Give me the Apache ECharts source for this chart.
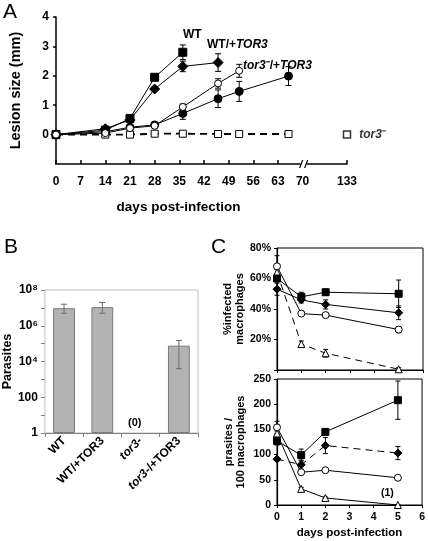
<!DOCTYPE html>
<html><head><meta charset="utf-8">
<script src="https://cdn.jsdelivr.net/npm/echarts@6/dist/echarts.min.js"></script>
<style>html,body{margin:0;padding:0;background:#fff}#c{width:428px;height:541px}</style>
</head><body><div id="c"></div>
<script>
// ---------- Panel A : lesion size ----------
const aDays = [0, 14, 21, 28, 36, 46, 52, 66];
const aWT = [0, 0.15, 0.55, 1.95, 2.8];
const aWTErr = [0, 0.03, 0.05, 0.06, 0.25];
const aWTTOR3 = [0, 0.2, 0.5, 1.55, 2.32, 2.45];
const aWTTOR3Err = [0, 0.03, 0.05, 0.07, 0.18, 0.3];
const aTor3TOR3a = [0, 0.1, 0.25, 0.33, 0.72, 1.22, 1.47, 1.99];
const aTor3TOR3aErr = [0, 0.03, 0.05, 0.05, 0.2, 0.3, 0.34, 0.32];
const aTor3TOR3b = [0, 0.05, 0.22, 0.3, 0.94, 1.74, 2.17];
const aTor3TOR3bErr = [0, 0.03, 0.05, 0.05, 0.1, 0.16, 0.22];
const aTor3 = [0, 0, 0, 0.03, 0.03, 0.02, 0.02, 0.02];
const aTor3LateDay = [133];
const aTor3Late = [0];
const aTickDays = [0, 7, 14, 21, 28, 35, 42, 49, 56, 63, 70, 133];
const aYTicks = [0, 1, 2, 3, 4];

// ---------- Panel B : parasites ----------
const bCats = ['WT', 'WT/+TOR3', 'tor3-', 'tor3-/+TOR3'];
const bValues = [9.6e6, 1.1e7, null, 7.7e4];
const bErrLow = [5e6, 5e6, null, 4e3];
const bErrHigh = [1.6e7, 2e7, null, 1.5e5];

// ---------- Panel C : macrophage infection ----------
const cDays = [0, 1, 2, 5];
const c1Square = [60, 48, 51, 50];
const c1SquareErr = [6, 3, 2, 9];
const c1Diamond = [53, 46, 43, 37.5];
const c1DiamondErr = [4, 2, 3, 4.5];
const c1Circle = [68, 37, 36, 26.5];
const c1CircleErr = [7, 1, 1, 2];
const c1Triangle = [64, 17, 11, 0.5];
const c1TriangleErr = [5, 2, 2.5, 1];

const c2Square = [127, 99, 145, 208];
const c2SquareErr = [8, 12, 3, 38];
const c2Diamond = [91, 80, 118, 103];
const c2DiamondErr = [3, 9, 16, 13];
const c2Circle = [154, 65, 69, 54];
const c2CircleErr = [12, 3, 3, 2];
const c2Triangle = [142, 32, 14, 0];
const c2TriangleErr = [5, 3, 2, 1];

const FONT = "'Liberation Sans', Arial, Helvetica, sans-serif";
const BREAK_AT = 70, BREAK_SCALE = 0.2;
const dx = d => d <= BREAK_AT ? d : BREAK_AT + (d - BREAK_AT) * BREAK_SCALE;

function pts(days, vals, f) { f = f || (d => d); return vals.map((v, i) => [f(days[i]), v]); }
function errPts(days, vals, errs, f) {
  f = f || (d => d);
  const out = [];
  vals.forEach((v, i) => { if (errs[i] > 0) out.push([f(days[i]), v - errs[i], v + errs[i]]); });
  return out;
}
function errSeries(xi, data, cap, color, z) {
  return {
    type: 'custom', xAxisIndex: xi, yAxisIndex: xi, data, z: z || 3, silent: true,
    encode: { x: 0, y: [1, 2] },
    renderItem: function (params, api) {
      const x = api.value(0), lo = api.value(1), hi = api.value(2);
      const p1 = api.coord([x, hi]), p2 = api.coord([x, lo]);
      const style = { stroke: color || '#000', lineWidth: 1, fill: null };
      return { type: 'group', children: [
        { type: 'line', shape: { x1: p1[0], y1: p1[1], x2: p2[0], y2: p2[1] }, style },
        { type: 'line', shape: { x1: p1[0] - cap, y1: p1[1], x2: p1[0] + cap, y2: p1[1] }, style },
        { type: 'line', shape: { x1: p2[0] - cap, y1: p2[1], x2: p2[0] + cap, y2: p2[1] }, style }
      ] };
    }
  };
}
function lineSeries(name, xi, data, symbol, size, filled, dashed, lw) {
  return {
    type: 'line', name, xAxisIndex: xi, yAxisIndex: xi, data, symbol, symbolSize: size,
    showAllSymbol: true, z: 4,
    lineStyle: { color: '#000', width: lw || 1, type: dashed ? [7, 5] : 'solid' },
    itemStyle: { color: filled ? '#000' : '#fff', borderColor: '#000', borderWidth: 1 },
    emphasis: { disabled: true }
  };
}

const axText = { color: '#000', fontFamily: FONT, fontWeight: 'bold' };

const chart = echarts.init(document.getElementById('c'));
const option = {
  animation: false,
  textStyle: { fontFamily: FONT },
  grid: [
    { left: 49, top: 17, width: 298, height: 147 },
    { left: 43, top: 290, width: 155, height: 143, show: true, borderColor: '#bdbdbd', borderWidth: 1 },
    { left: 277, top: 248, width: 146, height: 122, show: true, borderColor: '#000', borderWidth: 1 },
    { left: 277, top: 379, width: 146, height: 126, show: true, borderColor: '#000', borderWidth: 1 }
  ],
  xAxis: [
    {
      gridIndex: 0, type: 'value', min: 0, max: dx(133),
      axisLine: { onZero: false, lineStyle: { color: '#000', width: 1.5 } },
      axisTick: { show: true, inside: true, length: 4, customValues: aTickDays.map(dx), lineStyle: { color: '#000', width: 1.5 } },
      axisLabel: Object.assign({ customValues: aTickDays.map(dx), fontSize: 12, margin: 12,
        formatter: v => { const d = aTickDays.find(t => Math.abs(dx(t) - v) < 1e-6); return d === undefined ? '' : String(d); } }, axText),
      splitLine: { show: false },
      name: 'days post-infection', nameLocation: 'middle', nameGap: 36,
      nameTextStyle: Object.assign({ fontSize: 13.5, padding: [0, 46, 0, 0] }, axText)
    },
    {
      gridIndex: 1, type: 'category', data: bCats,
      axisLine: { onZero: false, lineStyle: { color: '#808080', width: 1 } },
      axisTick: { show: true, length: 4, lineStyle: { color: '#808080' } },
      axisLabel: Object.assign({ rotate: 45, interval: 0, fontSize: 12, margin: 6,
        formatter: v => v.startsWith('tor3-') ? '{i|tor3-}' + v.slice(5) : v,
        rich: { i: { fontStyle: 'italic', fontWeight: 'bold', fontSize: 12, fontFamily: FONT, color: '#000' } } }, axText),
      splitLine: { show: false }
    },
    {
      gridIndex: 2, type: 'value', min: 0, max: 6, interval: 1,
      axisLine: { onZero: false, lineStyle: { color: '#000', width: 1.2 } },
      axisTick: { show: true, length: 3, lineStyle: { color: '#000' } },
      axisLabel: { show: false }, splitLine: { show: false }
    },
    {
      gridIndex: 3, type: 'value', min: 0, max: 6, interval: 1,
      axisLine: { onZero: false, lineStyle: { color: '#000', width: 1.2 } },
      axisTick: { show: true, length: 3, lineStyle: { color: '#000' } },
      axisLabel: Object.assign({ fontSize: 10.5, margin: 7 }, axText),
      splitLine: { show: false },
      name: 'days post-infection', nameLocation: 'middle', nameGap: 22,
      nameTextStyle: Object.assign({ fontSize: 11.5 }, axText)
    }
  ],
  yAxis: [
    {
      gridIndex: 0, type: 'value', min: -1, max: 4,
      axisLine: { onZero: false, lineStyle: { color: '#000', width: 1.5 } },
      axisTick: { show: true, length: 3, customValues: aYTicks, lineStyle: { color: '#000', width: 1.5 } },
      axisLabel: Object.assign({ customValues: aYTicks, fontSize: 12, margin: 7 }, axText),
      splitLine: { show: false },
      name: 'Lesion size (mm)', nameLocation: 'middle', nameGap: 33, nameRotate: 90,
      nameTextStyle: Object.assign({ fontSize: 14.5 }, axText)
    },
    {
      gridIndex: 1, type: 'log', logBase: 10, min: 1, max: 1e8, splitNumber: 8,
      axisLine: { onZero: false, lineStyle: { color: '#808080', width: 1 } },
      axisTick: { show: true, length: 4, lineStyle: { color: '#808080' } },
      axisLabel: Object.assign({ fontSize: 12, margin: 7,
        formatter: v => { const e = Math.round(Math.log10(v)); if (e % 2) return ''; if (e === 0) return '1'; if (e === 2) return '100'; return '10' + '⁰¹²³⁴⁵⁶⁷⁸⁹'[e]; } }, axText),
      splitLine: { show: false },
      name: 'Parasites', nameLocation: 'middle', nameGap: 27, nameRotate: 90,
      nameTextStyle: Object.assign({ fontSize: 12.5 }, axText)
    },
    {
      gridIndex: 2, type: 'value', min: 0, max: 80, interval: 20,
      axisLine: { onZero: false, lineStyle: { color: '#000', width: 1.2 } },
      axisTick: { show: true, length: 3, lineStyle: { color: '#000' } },
      axisLabel: Object.assign({ fontSize: 10.5, margin: 6, formatter: v => v ? v + '%' : '' }, axText),
      splitLine: { show: false },
      name: '%infected\nmacrophages', nameLocation: 'middle', nameGap: 30, nameRotate: 90,
      nameTextStyle: Object.assign({ fontSize: 11, lineHeight: 12 }, axText)
    },
    {
      gridIndex: 3, type: 'value', min: 0, max: 250, interval: 50,
      axisLine: { onZero: false, lineStyle: { color: '#000', width: 1.2 } },
      axisTick: { show: true, length: 3, lineStyle: { color: '#000' } },
      axisLabel: Object.assign({ fontSize: 10.5, margin: 6 }, axText),
      splitLine: { show: false },
      name: 'prasites /\n100 macrophages', nameLocation: 'middle', nameGap: 30, nameRotate: 90,
      nameTextStyle: Object.assign({ fontSize: 11, lineHeight: 12 }, axText)
    }
  ],
  series: [
    // Panel A
    lineSeries('tor3-', 0, pts(aDays, aTor3, dx), 'rect', 7, false, true, 1.8),
    {
      type: 'scatter', name: 'tor3- late', xAxisIndex: 0, yAxisIndex: 0,
      data: pts(aTor3LateDay, aTor3Late, dx), symbol: 'rect', symbolSize: 7, z: 4,
      itemStyle: { color: '#fff', borderColor: '#000', borderWidth: 1.5 },
      label: { show: true, position: 'right', distance: 8, formatter: '{i|tor3}{b|⁻}',
        rich: { i: { fontFamily: FONT, fontWeight: 'bold', fontStyle: 'italic', fontSize: 12, color: '#000' },
                b: { fontFamily: FONT, fontWeight: 'bold', fontSize: 12, color: '#000' } } },
      emphasis: { disabled: true }
    },
    lineSeries('WT', 0, pts(aDays, aWT, dx), 'rect', 8, true, false),
    lineSeries('WT/+TOR3', 0, pts(aDays, aWTTOR3, dx), 'diamond', 10, true, false),
    lineSeries('tor3-/+TOR3 a', 0, pts(aDays, aTor3TOR3a, dx), 'circle', 8, true, false),
    lineSeries('tor3-/+TOR3 b', 0, pts(aDays, aTor3TOR3b, dx), 'circle', 7, false, false),
    errSeries(0, errPts(aDays, aWT, aWTErr, dx), 3),
    errSeries(0, errPts(aDays, aWTTOR3, aWTTOR3Err, dx), 3),
    errSeries(0, errPts(aDays, aTor3TOR3a, aTor3TOR3aErr, dx), 3),
    errSeries(0, errPts(aDays, aTor3TOR3b, aTor3TOR3bErr, dx), 3),
    // Panel B
    {
      type: 'bar', xAxisIndex: 1, yAxisIndex: 1, data: bValues, barWidth: '57%',
      itemStyle: { color: '#b3b3b3', borderColor: '#7a7a7a', borderWidth: 1 },
      emphasis: { disabled: true }
    },
    errSeries(1, bValues.map((v, i) => v ? [i, bErrLow[i], bErrHigh[i]] : null).filter(Boolean), 3, '#6e6e6e'),
    // Panel C top
    lineSeries('c1 triangle', 2, pts(cDays, c1Triangle), 'triangle', 7, false, true),
    lineSeries('c1 circle', 2, pts(cDays, c1Circle), 'circle', 7, false, false),
    lineSeries('c1 diamond', 2, pts(cDays, c1Diamond), 'diamond', 8, true, false),
    lineSeries('c1 square', 2, pts(cDays, c1Square), 'rect', 7, true, false),
    errSeries(2, errPts(cDays, c1Triangle, c1TriangleErr), 2.5),
    errSeries(2, errPts(cDays, c1Circle, c1CircleErr), 2.5),
    errSeries(2, errPts(cDays, c1Diamond, c1DiamondErr), 2.5),
    errSeries(2, errPts(cDays, c1Square, c1SquareErr), 2.5),
    // Panel C bottom
    lineSeries('c2 triangle', 3, pts(cDays, c2Triangle), 'triangle', 7, false, false),
    lineSeries('c2 circle', 3, pts(cDays, c2Circle), 'circle', 7, false, false),
    lineSeries('c2 diamond', 3, pts(cDays, c2Diamond), 'diamond', 8, true, true),
    lineSeries('c2 square', 3, pts(cDays, c2Square), 'rect', 7, true, false),
    errSeries(3, errPts(cDays, c2Triangle, c2TriangleErr), 2.5),
    errSeries(3, errPts(cDays, c2Circle, c2CircleErr), 2.5),
    errSeries(3, errPts(cDays, c2Diamond, c2DiamondErr), 2.5),
    errSeries(3, errPts(cDays, c2Square, c2SquareErr), 2.5)
  ]
};
chart.setOption(option);

// annotations
const bx = chart.convertToPixel({ xAxisIndex: 0 }, dx(71.5));
const ax0 = chart.convertToPixel({ yAxisIndex: 0 }, -1);
const bold = (s, x, y, extra) => ({ type: 'text', left: x, top: y, style: Object.assign({ text: s, fontFamily: FONT, fontWeight: 'bold', fontSize: 12, fill: '#000' }, extra || {}) });
chart.setOption({
  graphic: [
    { type: 'text', left: 3, top: 2, style: { text: 'A', fontFamily: FONT, fontSize: 21, fill: '#000' } },
    { type: 'text', left: 4, top: 237, style: { text: 'B', fontFamily: FONT, fontSize: 21, fill: '#000' } },
    { type: 'text', left: 211, top: 237, style: { text: 'C', fontFamily: FONT, fontSize: 21, fill: '#000' } },
    bold('WT', 183, 29),
    { type: 'text', left: 207, top: 39, style: { text: '{b|WT/+}{i|TOR3}', fontFamily: FONT, fontSize: 12,
      rich: { b: { fontFamily: FONT, fontWeight: 'bold', fontSize: 12, fill: '#000' }, i: { fontFamily: FONT, fontWeight: 'bold', fontStyle: 'italic', fontSize: 12, fill: '#000' } } } },
    { type: 'text', left: 243, top: 60, style: { text: '{i|tor3}{b|⁻/+}{i|TOR3}', fontFamily: FONT, fontSize: 12,
      rich: { b: { fontFamily: FONT, fontWeight: 'bold', fontSize: 12, fill: '#000' }, i: { fontFamily: FONT, fontWeight: 'bold', fontStyle: 'italic', fontSize: 12, fill: '#000' } } } },
    bold('(0)', 128, 417, { fontSize: 11 }),
    bold('(1)', 381, 488, { fontSize: 10.5 }),
    { type: 'rect', shape: { x: bx - 3, y: ax0 - 4, width: 6, height: 8 }, style: { fill: '#fff' }, z: 100 },
    { type: 'line', shape: { x1: bx - 4, y1: ax0 + 4, x2: bx - 1, y2: ax0 - 4 }, style: { stroke: '#000', lineWidth: 1.2 }, z: 101 },
    { type: 'line', shape: { x1: bx + 1, y1: ax0 + 4, x2: bx + 4, y2: ax0 - 4 }, style: { stroke: '#000', lineWidth: 1.2 }, z: 101 }
  ]
});
</script>
</body></html>
